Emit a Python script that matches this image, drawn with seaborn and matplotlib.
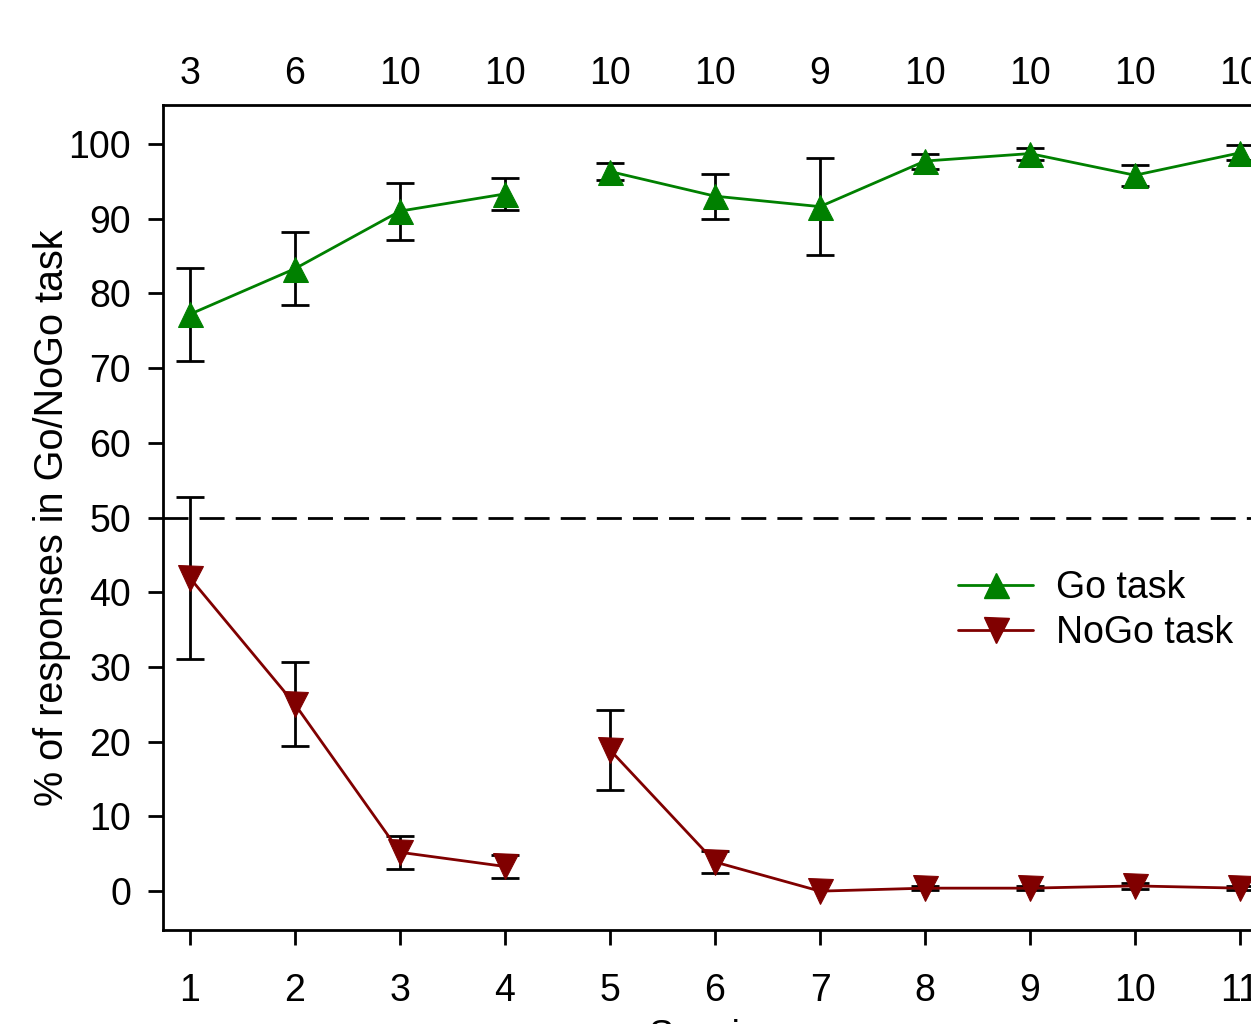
import numpy as np
import pandas as pd
import matplotlib
matplotlib.use("Agg")
import matplotlib.pyplot as plt
import seaborn as sns
from matplotlib.lines import Line2D

sessions = [1, 2, 3, 4, 5, 6, 7, 8, 9, 10, 11]
segment = [0, 0, 0, 0, 1, 1, 1, 1, 1, 1, 1]
n_counts = ["3", "6", "10", "10", "10", "10", "9", "10", "10", "10", "10"]
go_mean = [77.2, 83.3, 91.0, 93.3, 96.3, 93.0, 91.6, 97.7, 98.7, 95.8, 98.8]
go_err = [6.2, 4.9, 3.8, 2.1, 1.2, 3.0, 6.5, 1.0, 0.8, 1.4, 1.0]
nogo_mean = [41.9, 25.0, 5.2, 3.3, 18.9, 3.9, 0.0, 0.4, 0.4, 0.7, 0.4]
nogo_err = [10.8, 5.6, 2.2, 1.6, 5.4, 1.5, 0.0, 0.3, 0.3, 0.4, 0.3]

go_color = "#008000"
nogo_color = "#800000"

sns.set_theme(style="white")
plt.rcParams['font.family'] = ['Liberation Sans', 'DejaVu Sans']
plt.rcParams['text.color'] = 'black'
plt.rcParams['axes.labelcolor'] = 'black'

FS = 27

fig = plt.figure(figsize=(12.51, 10.24), dpi=100)
ax = fig.add_axes([163 / 1251, 1 - 930 / 1024, (1267 - 163) / 1251, (930 - 105) / 1024])

df = pd.DataFrame({
    "session": sessions * 2,
    "value": go_mean + nogo_mean,
    "err": go_err + nogo_err,
    "segment": segment * 2,
    "task": ["Go task"] * 11 + ["NoGo task"] * 11,
})

# error bars
for task, col in [("Go task", go_color), ("NoGo task", nogo_color)]:
    d = df[df.task == task]
    mask = d.err > 0
    ax.errorbar(d.session[mask], d.value[mask], yerr=d.err[mask], fmt="none",
                ecolor="black", elinewidth=2.0, capsize=10, capthick=2.0, zorder=2)

# lines with markers
for task, col, mk in [("Go task", go_color, "^"), ("NoGo task", nogo_color, "v")]:
    d = df[df.task == task]
    for seg in sorted(d.segment.unique()):
        ds = d[d.segment == seg]
        sns.lineplot(data=ds, x="session", y="value", ax=ax, color=col,
                     linewidth=2.0, marker=mk, markersize=18, markeredgecolor=col,
                     estimator=None, legend=False, zorder=3)

ax.axhline(50, color="black", linewidth=2.0, linestyle=(0, (9, 4)), zorder=1)

ax.set_xlim(0.743, 11.257)
ax.set_ylim(-5.2, 105.2)
ax.set_xticks(sessions)
ax.set_xticklabels([str(s) for s in sessions])
ax.set_yticks(np.arange(0, 101, 10))
ax.tick_params(axis="both", which="both", direction="out", length=11, width=2.0,
               labelsize=FS, colors="black", bottom=True, left=True)
ax.tick_params(axis="x", pad=20)
ax.tick_params(axis="y", pad=12)
for side in ["left", "bottom", "top", "right"]:
    ax.spines[side].set_visible(True)
    ax.spines[side].set_color("black")
    ax.spines[side].set_linewidth(2.0)

ax.set_xlabel("Session", fontsize=FS, labelpad=7.5)
ax.set_ylabel("% of responses in Go/NoGo task", fontsize=28.5, labelpad=-2)

top = ax.secondary_xaxis("top")
top.set_xticks(sessions)
top.set_xticklabels(n_counts)
top.tick_params(length=0, labelsize=FS, pad=9, colors="black")
top.spines["top"].set_visible(False)

handles = [
    Line2D([0], [0], color=go_color, marker="^", markersize=18, linewidth=2.0),
    Line2D([0], [0], color=nogo_color, marker="v", markersize=18, linewidth=2.0),
]
ax.legend(handles, ["Go task", "NoGo task"], loc="upper left",
          bbox_to_anchor=((943 - 163) / 1104, (930 - 555) / 825),
          frameon=False, fontsize=FS, handlelength=2.0, handletextpad=0.6,
          labelspacing=0.25, borderaxespad=0)

fig.savefig("out.png", dpi=100)
